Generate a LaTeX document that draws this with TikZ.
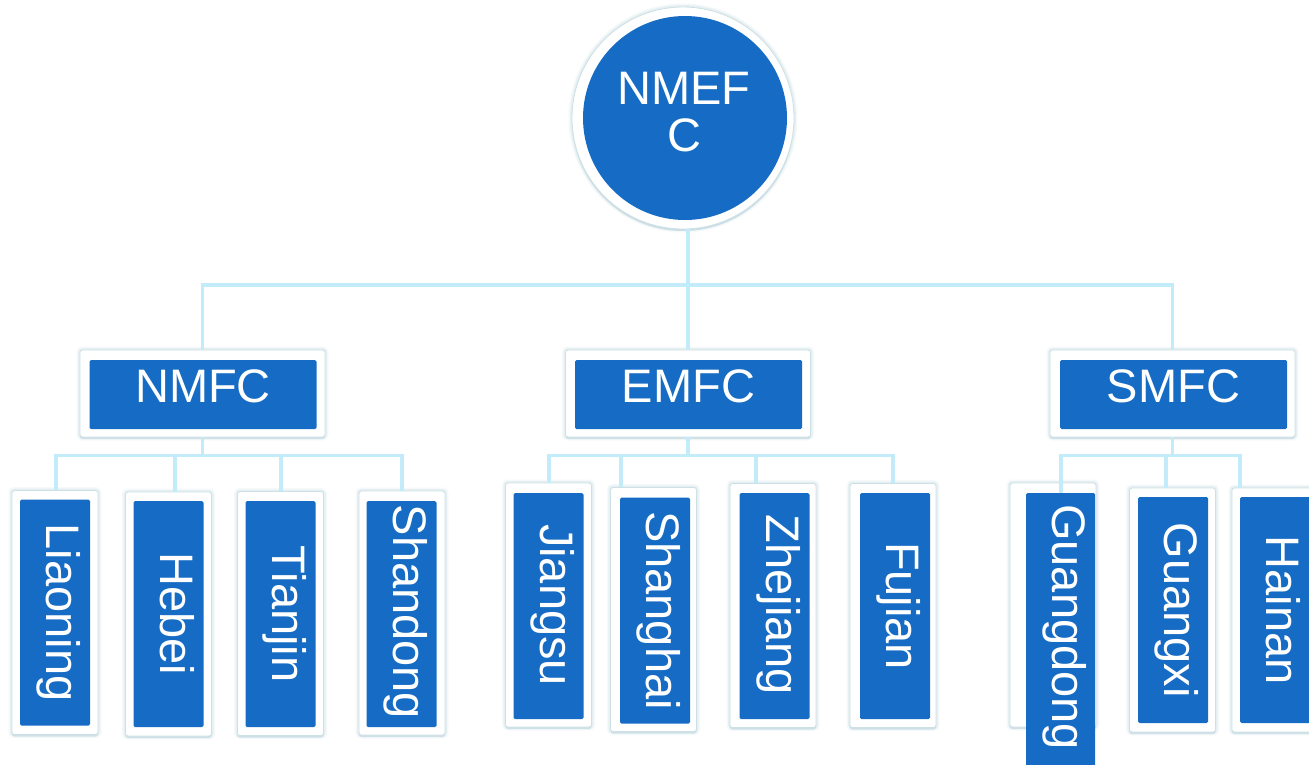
\documentclass[tikz,border=0pt]{standalone}
\usepackage{fontspec}
\setmainfont{Liberation Sans}
\usetikzlibrary{shadows}
\definecolor{nodeblue}{RGB}{22,108,196}
\definecolor{linkblue}{RGB}{194,236,250}
\definecolor{glow}{RGB}{165,198,210}
\begin{document}
\begin{tikzpicture}[x=1pt,y=-1pt,
  softglow/.style={preaction={draw=glow, line width=7pt, opacity=0.10},
                   preaction={draw=glow, line width=4pt, opacity=0.18}},
  frame/.style={softglow, draw=glow!55, line width=0.8pt, fill=white, rounded corners=2.5pt, inner sep=0pt,
    drop shadow={shadow xshift=0pt, shadow yshift=-2pt, fill=glow, opacity=0.35}},
  leafframe/.style={frame, minimum width=86pt, minimum height=244pt},
  midframe/.style={frame, minimum width=245pt, minimum height=87pt},
  core/.style={fill=nodeblue, rounded corners=1.5pt, inner sep=0pt},
  leafcore/.style={core, minimum width=70pt, minimum height=226pt},
  midcore/.style={core, minimum width=227pt, minimum height=69pt},
  lbl/.style={text=white, inner sep=0pt, font=\fontsize{47}{47}\selectfont,
    text height=33.6pt, text depth=0pt},
  vlbl/.style={lbl, rotate=-90},
  conn/.style={draw=linkblue, line width=3.5pt}]
\fill[white] (0,0) rectangle (1309,764);
\useasboundingbox (0,0) rectangle (1309,764);

% root
\node[circle, softglow, fill=white, draw=glow!55, line width=0.8pt, minimum size=222pt, inner sep=0pt,
  drop shadow={shadow xshift=0pt, shadow yshift=-2pt, fill=glow, opacity=0.4}] (root) at (683,118) {};
\node[circle, fill=nodeblue, minimum size=204pt, inner sep=0pt] (rootcore) at (685,118) {};
\node[anchor=north, text=white, inner sep=0pt, align=center,
  font=\fontsize{47}{47}\selectfont] (rootT) at (684,72) {NMEF\\C};

% middle level
\node[midframe] (nmfcO) at (202.5,393.5) {};
\node[midcore] (nmfc) at (203,394.5) {};
\node[lbl] (nmfcT) at (203,385.5) {NMFC};

\node[midframe] (emfcO) at (688,393.5) {};
\node[midcore] (emfc) at (688.5,394.5) {};
\node[lbl] (emfcT) at (688.5,385.5) {EMFC};

\node[midframe] (smfcO) at (1172.5,393.5) {};
\node[midcore] (smfc) at (1173.5,394.5) {};
\node[lbl] (smfcT) at (1173.5,385.5) {SMFC};

% leaves NMFC
\node[leafframe] (liaoningO) at (55,612.5) {};
\node[leafcore] (liaoning) at (55,612.5) {};
\node[vlbl] (liaoningT) at (63.5,612.5) {Liaoning};

\node[leafframe] (hebeiO) at (168.5,614) {};
\node[leafcore] (hebei) at (168.5,614) {};
\node[vlbl] (hebeiT) at (177,614) {Hebei};

\node[leafframe] (tianjinO) at (280.5,613.5) {};
\node[leafcore] (tianjin) at (280.5,614) {};
\node[vlbl] (tianjinT) at (289,614) {Tianjin};

\node[leafframe] (shandongO) at (402,613) {};
\node[leafcore] (shandong) at (401.5,614) {};
\node[vlbl] (shandongT) at (410,612) {Shandong};

% leaves EMFC
\node[leafframe] (jiangsuO) at (548.5,605) {};
\node[leafcore] (jiangsu) at (548.5,606) {};
\node[vlbl] (jiangsuT) at (557,605) {Jiangsu};

\node[leafframe] (shanghaiO) at (653.5,609.5) {};
\node[leafcore] (shanghai) at (655,610.5) {};
\node[vlbl] (shanghaiT) at (663.5,610.5) {Shanghai};

\node[leafframe] (zhejiangO) at (773,605.5) {};
\node[leafcore] (zhejiang) at (774.5,606) {};
\node[vlbl] (zhejiangT) at (783,605) {Zhejiang};

\node[leafframe] (fujianO) at (893,605.5) {};
\node[leafcore] (fujian) at (895,606) {};
\node[vlbl] (fujianT) at (903.5,606) {Fujian};

% leaves SMFC
\node[leafframe] (guangdongO) at (1053,605) {};
\node[core, minimum width=69pt, minimum height=277pt] (guangdong) at (1060.5,631.5) {};
\node[vlbl] (guangdongT) at (1069,627) {Guangdong};

\node[leafframe] (guangxiO) at (1172.5,610) {};
\node[leafcore] (guangxi) at (1173,610) {};
\node[vlbl] (guangxiT) at (1181.5,610) {Guangxi};

\node[leafframe] (hainanO) at (1275,610) {};
\node[leafcore] (hainan) at (1275,610) {};
\node[vlbl] (hainanT) at (1283.5,610) {Hainan};

% connectors: root to middle
\coordinate (rootbus) at (688,285);
\draw[conn] (root.south -| emfcO.north) -- (emfcO.north);
\draw[conn] (rootbus) -| (nmfcO.north);
\draw[conn] (rootbus) -| (smfcO.north);

% NMFC children
\draw[conn] (nmfcO.south) -- ++(0,18) coordinate (nbus) -| (56,0 |- liaoningO.north);
\draw[conn] (nbus) -| (175,0 |- hebeiO.north);
\draw[conn] (nbus) -| (281,0 |- tianjinO.north);
\draw[conn] (nbus) -| (402,0 |- shandongO.north);

% EMFC children
\draw[conn] (emfcO.south) -- ++(0,18) coordinate (ebus) -| (549,0 |- jiangsuO.north);
\draw[conn] (ebus) -| (621,0 |- shanghaiO.north);
\draw[conn] (ebus) -| (756,0 |- zhejiangO.north);
\draw[conn] (ebus) -| (893,0 |- fujianO.north);

% SMFC children
\draw[conn] (smfcO.south) -- ++(0,18) coordinate (sbus) -| (1061,0 |- guangdong.north);
\draw[conn] (sbus) -| (1166,0 |- guangxiO.north);
\draw[conn] (sbus) -| (1240,0 |- hainanO.north);
\end{tikzpicture}
\end{document}
